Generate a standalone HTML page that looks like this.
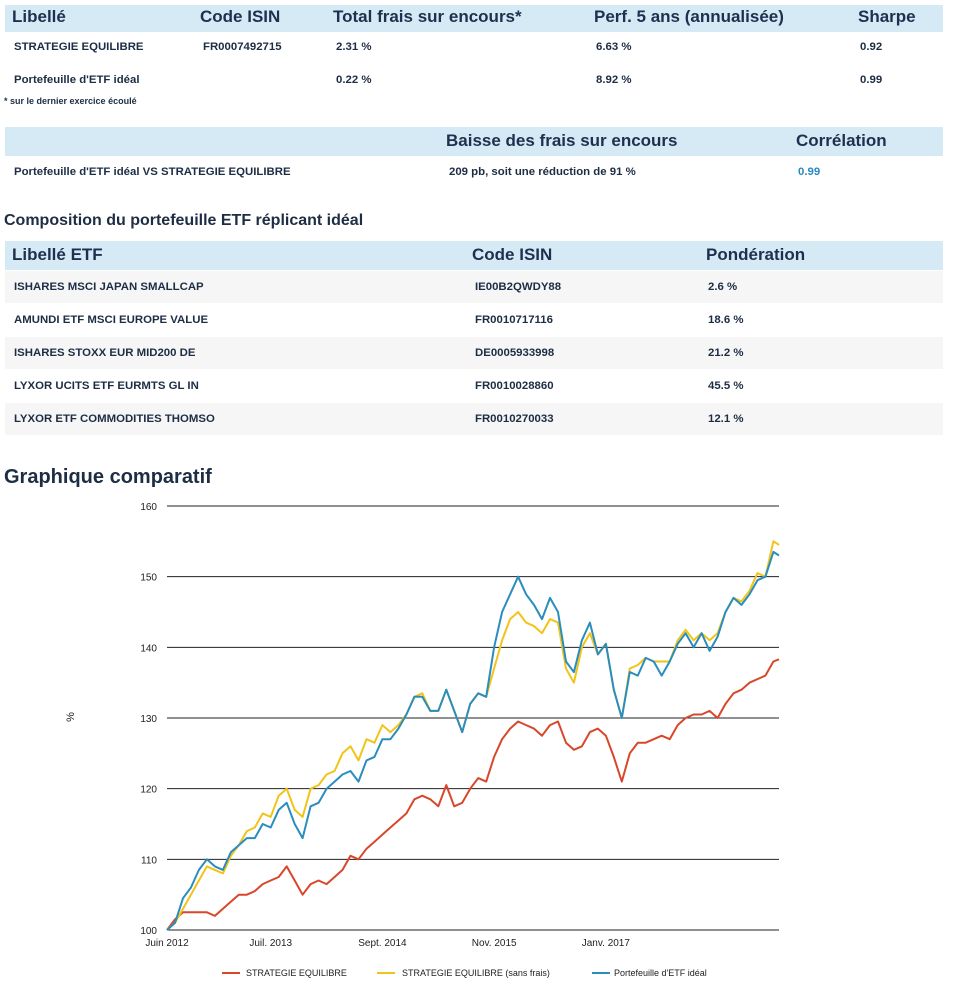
<!DOCTYPE html>
<html><head><meta charset="utf-8"><style>
body{margin:0;width:956px;height:987px;background:#fff;font-family:"Liberation Sans",Verdana,sans-serif;color:#1d2d44;position:relative;overflow:hidden}
.a{position:absolute;white-space:nowrap}
.band{position:absolute;left:5px;width:938px;background:#d6eaf5}
.h{font-size:17px;font-weight:bold;color:#1d3050}
.c{font-size:11.4px;font-weight:bold;color:#1d2d44}
.g{position:absolute;left:5px;width:938px;height:32px;background:#f6f6f6}
</style></head><body>
<div class="band" style="top:5px;height:27px"></div>
<div class="a h" style="left:12px;top:7px">Libellé</div>
<div class="a h" style="left:200px;top:7px">Code ISIN</div>
<div class="a h" style="left:333px;top:7px">Total frais sur encours*</div>
<div class="a h" style="left:594px;top:7px">Perf. 5 ans (annualisée)</div>
<div class="a h" style="left:858px;top:7px">Sharpe</div>
<div class="a c" style="left:14px;top:41px">STRATEGIE EQUILIBRE</div>
<div class="a c" style="left:203px;top:41px">FR0007492715</div>
<div class="a c" style="left:336px;top:41px">2.31 %</div>
<div class="a c" style="left:596px;top:41px">6.63 %</div>
<div class="a c" style="left:860px;top:41px">0.92</div>
<div class="a c" style="left:14px;top:74px">Portefeuille d'ETF idéal</div>
<div class="a c" style="left:336px;top:74px">0.22 %</div>
<div class="a c" style="left:596px;top:74px">8.92 %</div>
<div class="a c" style="left:860px;top:74px">0.99</div>
<div class="a" style="left:4px;top:96px;font-size:9px;font-weight:bold">* sur le dernier exercice écoulé</div>

<div class="band" style="top:127px;height:29px"></div>
<div class="a h" style="left:446px;top:131px">Baisse des frais sur encours</div>
<div class="a h" style="left:796px;top:131px">Corrélation</div>
<div class="a c" style="left:14px;top:166px">Portefeuille d'ETF idéal VS STRATEGIE EQUILIBRE</div>
<div class="a c" style="left:449px;top:166px">209 pb, soit une réduction de 91 %</div>
<div class="a c" style="left:798px;top:166px;color:#2a8ac0">0.99</div>

<div class="a" style="left:4px;top:212px;font-size:16px;font-weight:bold;color:#1d2d44">Composition du portefeuille ETF réplicant idéal</div>
<div class="band" style="top:241px;height:29px"></div>
<div class="a h" style="left:12px;top:245px">Libellé ETF</div>
<div class="a h" style="left:472px;top:245px">Code ISIN</div>
<div class="a h" style="left:706px;top:245px">Pondération</div>
<div class="g" style="top:271px"></div>
<div class="g" style="top:337px"></div>
<div class="g" style="top:403px"></div>
<div class="a c" style="left:14px;top:281px">ISHARES MSCI JAPAN SMALLCAP</div>
<div class="a c" style="left:475px;top:281px">IE00B2QWDY88</div>
<div class="a c" style="left:708px;top:281px">2.6 %</div>
<div class="a c" style="left:14px;top:314px">AMUNDI ETF MSCI EUROPE VALUE</div>
<div class="a c" style="left:475px;top:314px">FR0010717116</div>
<div class="a c" style="left:708px;top:314px">18.6 %</div>
<div class="a c" style="left:14px;top:347px">ISHARES STOXX EUR MID200 DE</div>
<div class="a c" style="left:475px;top:347px">DE0005933998</div>
<div class="a c" style="left:708px;top:347px">21.2 %</div>
<div class="a c" style="left:14px;top:380px">LYXOR UCITS ETF EURMTS GL IN</div>
<div class="a c" style="left:475px;top:380px">FR0010028860</div>
<div class="a c" style="left:708px;top:380px">45.5 %</div>
<div class="a c" style="left:14px;top:413px">LYXOR ETF COMMODITIES THOMSO</div>
<div class="a c" style="left:475px;top:413px">FR0010270033</div>
<div class="a c" style="left:708px;top:413px">12.1 %</div>

<div class="a" style="left:4px;top:466px;font-size:20px;font-weight:bold;color:#1d2d44">Graphique comparatif</div>

<svg id="chart" class="a" style="left:0;top:0" width="956" height="987"></svg>
<script>
const yTicks=[100,110,120,130,140,150,160];
const xTickLabels=["Juin 2012","Juil. 2013","Sept. 2014","Nov. 2015","Janv. 2017"];
const xTickMonths=[0,13,27,41,55];
const seriesNames=["STRATEGIE EQUILIBRE","STRATEGIE EQUILIBRE (sans frais)","Portefeuille d'ETF idéal"];
const redVals=[100,101.5,102.5,102.5,102.5,102.5,102,103,104,105,105,105.5,106.5,107,107.5,109,107,105,106.5,107,106.5,107.5,108.5,110.5,110,111.5,112.5,113.5,114.5,115.5,116.5,118.5,119,118.5,117.5,120.5,117.5,118,120,121.5,121,124.5,127,128.5,129.5,129,128.5,127.5,129,129.5,126.5,125.5,126,128,128.5,127.5,124.5,121,125,126.5,126.5,127,127.5,127,129,130,130.5,130.5,131,130,132,133.5,134,135,135.5,136,138,138.3];
const yellowVals=[100,101,103,105,107,109,108.5,108,110.5,112,114,114.5,116.5,116,119,120,117,116,120,120.5,122,122.5,125,126,124,127,126.5,129,128,129,130.5,133,133.5,131,131,134,131,128,132,133.5,133,137,141,144,145,143.5,143,142,144,143.5,137,135,140,142,139,140.5,134,130,137,137.5,138.5,138,138,138,141,142.5,141,142,141,142,145,147,146.5,148,150.5,150,155,154.5];
const blueVals=[100,101,104.5,106,108.5,110,109,108.5,111,112,113,113,115,114.5,117,118,115,113,117.5,118,120,121,122,122.5,121,124,124.5,127,127,128.5,130.5,133,133,131,131,134,131,128,132,133.5,133,140,145,147.5,150,147.5,146,144,147,145,138,136.5,141,143.5,139,140.5,134,130,136.5,136,138.5,138,136,138,140.5,142,140,142,139.5,141.5,145,147,146,147.5,149.5,150,153.5,153];
const svg=document.getElementById('chart');const NS='http://www.w3.org/2000/svg';
const X0=167,X1=779,Y0=930,Y1=506,lastIdx=76.7;
function xs(m){return X0+(X1-X0)*m/lastIdx;}
function ys(v){return Y0-(Y0-Y1)*(v-100)/60;}
function mk(t,a){const e=document.createElementNS(NS,t);for(const k in a)e.setAttribute(k,a[k]);svg.appendChild(e);return e;}
yTicks.forEach(v=>{
 const l=mk('line',{x1:X0,x2:X1,y1:ys(v),y2:ys(v),stroke:'#222','stroke-width':1});
 
 
 const t=mk('text',{x:157,y:ys(v)+4,'text-anchor':'end','font-size':10,fill:'#222','font-family':'Liberation Sans, sans-serif'});
 t.textContent=v;
 
 
});
xTickLabels.forEach((s,i)=>{
 const t=mk('text',{x:xs(xTickMonths[i]),y:946,'text-anchor':'middle','font-size':10,fill:'#222','font-family':'Liberation Sans, sans-serif'});
 t.textContent=s;
 
 
});
const yt=mk('text',{x:0,y:0,transform:'translate(74,717) rotate(-90)','text-anchor':'middle','font-size':11,fill:'#222','font-family':'Liberation Sans, sans-serif'});
yt.textContent='%';


function line(vals,col,name){
 const d=vals.map((v,i)=>(i?'L':'M')+xs(i===vals.length-1?lastIdx:i).toFixed(1)+','+ys(v).toFixed(1)).join('');
 const p=mk('path',{d:d,fill:'none',stroke:col,'stroke-width':2,'stroke-linejoin':'round'});
 
 
}
line(redVals,'#d9472b','series-strategie-equilibre');
line(yellowVals,'#f2c318','series-sans-frais');
line(blueVals,'#2a8dbf','series-etf-ideal');
const leg=[[222,246,'#d9472b'],[377,402,'#f2c318'],[592,614,'#2a8dbf']];
leg.forEach((g,i)=>{
 const l=mk('line',{x1:g[0],x2:g[0]+18,y1:973,y2:973,stroke:g[2],'stroke-width':2});
 
 
 const t=mk('text',{x:g[1],y:976,'font-size':9,fill:'#222','font-family':'Liberation Sans, sans-serif'});
 t.textContent=seriesNames[i];
 
 
});
</script>
</body></html>
